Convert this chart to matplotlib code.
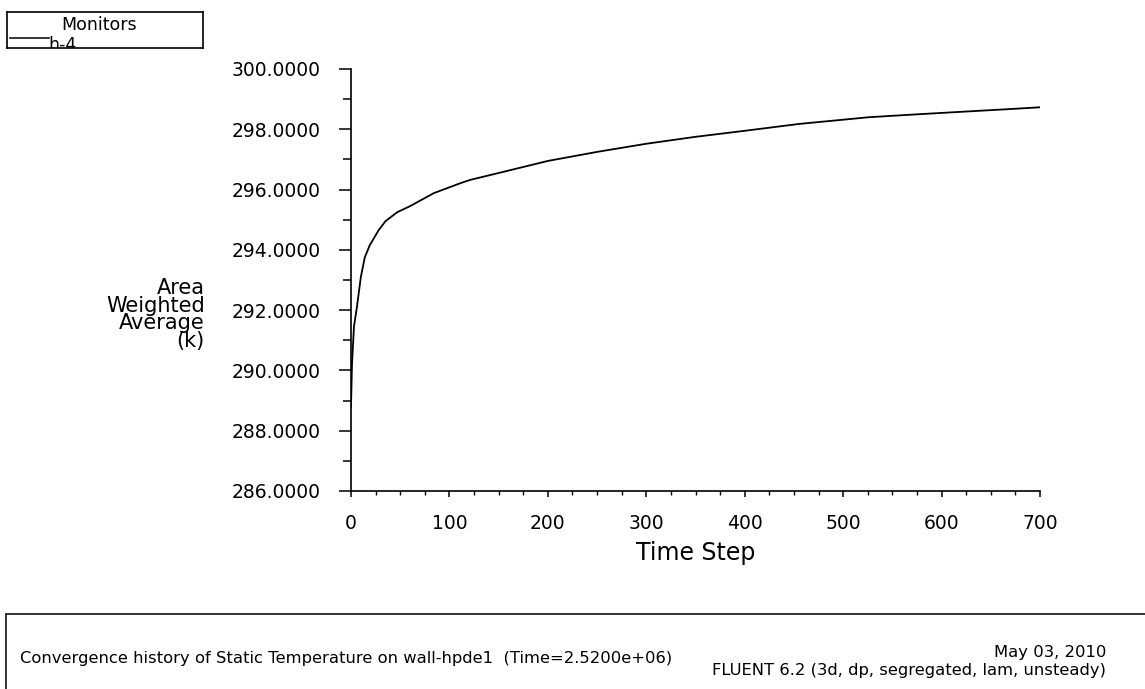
import matplotlib
matplotlib.use("Agg")
import matplotlib.pyplot as plt
import numpy as np

W, H = 1145, 689

# monitor history (time step, area weighted average temperature)
steps = [0, 1, 3, 6, 10, 14, 19, 28, 35, 47, 60, 84, 111, 121, 150, 200, 250, 300,
         350, 400, 456, 526, 577, 620, 669, 700]
temps = [288.8, 290.2, 291.45, 292.1, 293.1, 293.75, 294.15, 294.65, 294.95, 295.25,
         295.45, 295.88, 296.21, 296.32, 296.55, 296.95, 297.25, 297.52,
         297.75, 297.95, 298.18, 298.4, 298.5, 298.58, 298.67, 298.73]

yticks = [286, 288, 290, 292, 294, 296, 298, 300]
xticks = [0, 100, 200, 300, 400, 500, 600, 700]
ylabel_lines = ["Area", "Weighted", "Average", "(k)"]
footer_left = "Convergence history of Static Temperature on wall-hpde1  (Time=2.5200e+06)"
footer_date = "May 03, 2010"
footer_ver = "FLUENT 6.2 (3d, dp, segregated, lam, unsteady)"

plt.rcParams["font.family"] = ["DejaVu Sans"]


def fx(x):
    return x / W


def fy(y):
    return 1 - y / H


fig = plt.figure(figsize=(W / 100, H / 100), dpi=100)
fig.patch.set_facecolor("white")

# main plot, pixel box: x 351..1040, y 69..491
ax = fig.add_axes([fx(351), fy(491), (1040 - 351) / W, (491 - 69) / H])
ax.plot(steps, temps, color="black", lw=1.3)
ax.set_xlim(0, 700); ax.set_ylim(286, 300)
ax.spines[["top", "right"]].set_visible(False)
for s in ("left", "bottom"):
    ax.spines[s].set_linewidth(1.2)
ax.set_yticks(yticks)
ax.set_yticklabels([f"{v:.4f}" for v in yticks])
ax.set_yticks(np.arange(287, 300, 2), minor=True)
ax.set_xticks(xticks)
ax.set_xticks([v for v in range(25, 700, 25) if v % 100], minor=True)
ax.tick_params(axis="y", which="major", length=8.5, width=1.1, pad=13.5, labelsize=13.5)
ax.tick_params(axis="y", which="minor", length=5.5, width=1.1)
ax.tick_params(axis="x", which="major", length=4, width=1.1, pad=12.5, labelsize=13.5)
ax.tick_params(axis="x", which="minor", length=3, width=1.0)

fig.text(fx(696), fy(553), "Time Step", fontsize=17, ha="center", va="center")
for i, line in enumerate(ylabel_lines):
    fig.text(fx(205), fy(294 + 17.5 * i), line, fontsize=15, ha="right", va="baseline")

# legend box top-left
lg = fig.add_axes([fx(7), fy(48), 196 / W, 36 / H])
lg.set_xlim(0, 196); lg.set_ylim(48, 12)
lg.set_xticks([]); lg.set_yticks([])
for s in lg.spines.values():
    s.set_linewidth(1.2)
lg.text(92, 25, "Monitors", fontsize=12.5, ha="center", va="center")
lg.plot([3, 42], [37.5, 37.5], color="black", lw=1.1)
lg.text(41, 50, "h-4", fontsize=12.5, ha="left", va="baseline", clip_on=True)

# footer box
ft = fig.add_axes([fx(6), -0.02, 1.0, (689 - 614) / H + 0.02])
ft.set_xticks([]); ft.set_yticks([])
ft.spines[["right", "bottom"]].set_visible(False)
for s in ("top", "left"):
    ft.spines[s].set_linewidth(1.3); ft.spines[s].set_color("#222222")
fig.text(fx(20), fy(658), footer_left, fontsize=11.8, ha="left", va="center")
fig.text(fx(1106), fy(652), footer_date, fontsize=11.8, ha="right", va="center")
fig.text(fx(1106), fy(671), footer_ver, fontsize=11.8, ha="right", va="center")

fig.savefig("out.png", dpi=100, facecolor="white")
